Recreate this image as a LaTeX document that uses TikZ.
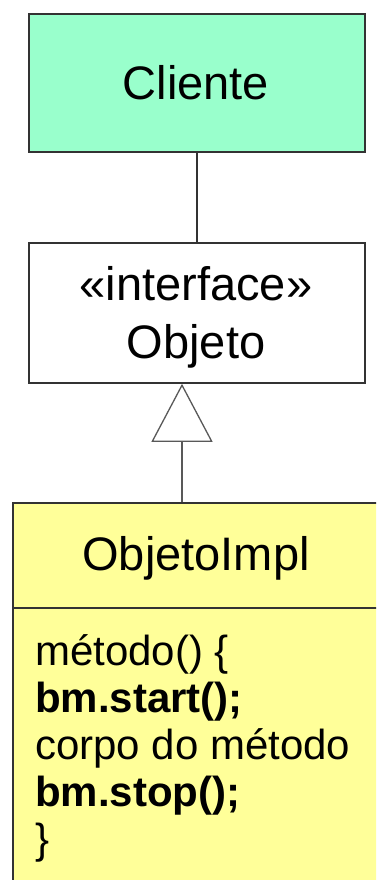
\documentclass[tikz,border=0pt]{standalone}
\usepackage{fontspec}
\setmainfont{Liberation Sans}
\usetikzlibrary{arrows.meta}
\definecolor{mint}{HTML}{99FFCC}
\definecolor{pale}{HTML}{FFFF99}
\definecolor{edge}{HTML}{333333}
\begin{document}
\begin{tikzpicture}[x=1pt,y=-1pt,
  box/.style={draw=edge, line width=1.8pt, inner sep=0pt, anchor=north west},
  big/.style={font=\fontsize{47}{55}\selectfont, inner sep=0pt, anchor=base},
  body/.style={font=\fontsize{42}{47}\selectfont, inner sep=0pt, anchor=base west},
  link/.style={draw=edge, line width=1.6pt},
  gen/.style={draw=black!65, line width=1.3pt,
    -{Triangle[open, length=58pt, width=61pt, fill=white]}}]
\useasboundingbox (0,0) rectangle (376,880);
\clip (0,0) rectangle (376,880);
\fill[white] (0,0) rectangle (376,880);
% boxes
\node[box, fill=mint, minimum width=336pt, minimum height=138pt] (cli) at (28,13) {};
\node[box, fill=white, minimum width=336pt, minimum height=140pt] (iface) at (28,242) {};
\node[box, fill=pale, minimum width=380pt, minimum height=400pt] (impl) at (12,502) {};
\coordinate (div) at (12,608);
\coordinate (divr) at (392,608);
\draw[link] (div) -- (divr);
% texts
\node[big] (tcli) at (196,100) {Cliente};
\node[big] (tint) at (196,300) {«interface»};
\node[big] (tobj) at (196,358) {Objeto};
\node[big] (timpl) at (196,570) {ObjetoImpl};
\node[body] (l1) at (35,665) {método() \{};
\node[body] (l2) at (35,712) {\bfseries bm.start();};
\node[body] (l3) at (35,759) {corpo do método};
\node[body] (l4) at (35,806) {\bfseries bm.stop();};
\node[body] (l5) at (35,853) {\}};
% connectors
\draw[link] (cli.south) -- (iface.north);
\coordinate (gx) at (182,0);
\draw[gen] (impl.north -| gx) -- (iface.south -| gx);
\end{tikzpicture}
\end{document}
